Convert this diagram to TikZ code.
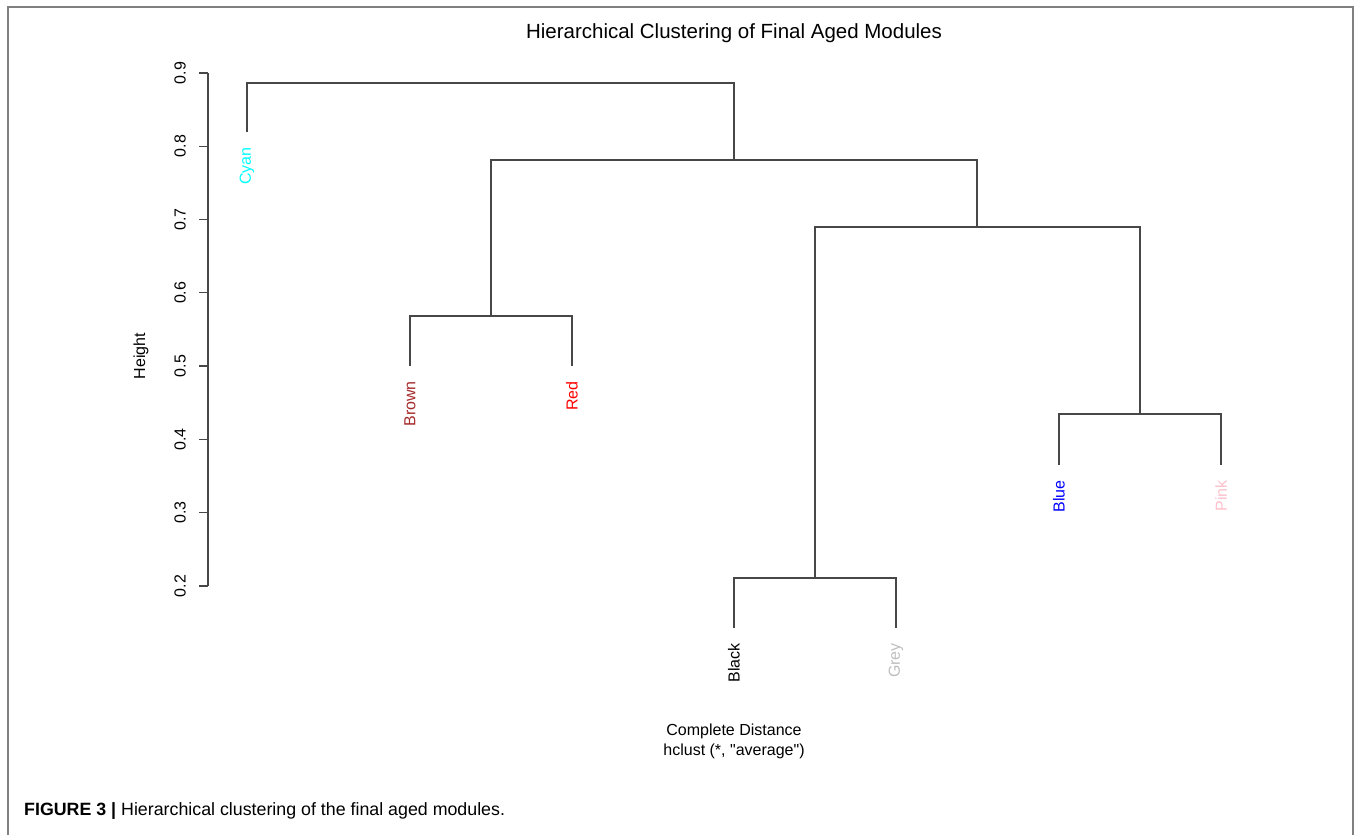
\documentclass[tikz,border=0pt]{standalone}
\usepackage{fontspec}
\setmainfont{Liberation Sans}[Ligatures=TeXOff]
\usetikzlibrary{positioning}
\definecolor{rcyan}{RGB}{0,255,255}
\definecolor{rbrown}{RGB}{165,42,42}
\definecolor{rred}{RGB}{255,0,0}
\definecolor{rgrey}{RGB}{190,190,190}
\definecolor{rblue}{RGB}{0,0,255}
\definecolor{rpink}{RGB}{255,192,203}
\begin{document}
\begin{tikzpicture}[x=1pt,y=-1pt,every node/.style={inner sep=0pt,font=\fontsize{16}{18}\selectfont},
  link/.style={line width=1.3pt,draw=black!72},
  leaf/.style={rotate=90,anchor=east}]
\useasboundingbox (0,0) rectangle (1356,835);
\draw[line width=2pt,draw=black!50] (8,835) |- (1353,6.5) -- (1353,835);
\node[font=\fontsize{20.5}{23}\selectfont] (title) at (734,33) {Hierarchical Clustering of Final Aged Modules};
% axis
\coordinate (axTop) at (208,73);
\coordinate (axBot) at (208,586);
\draw[link] (axTop) -- (axBot);
\foreach \v in {2,...,9}{
  \coordinate (tk\v) at (208,{586-(\v-2)*73.3});
  \draw[link] (tk\v) -- ++(-9,0);
  \node[rotate=90] (tl\v) at (180,{586-(\v-2)*73.3}) {0.\v};
}
\node[rotate=90] (ylab) at (141,356) {Height};
% leaves
\coordinate (cyanEnd) at (247,132);
\coordinate (brownEnd) at (410,366);
\coordinate (redEnd) at (572,366);
\coordinate (blackEnd) at (734,628);
\coordinate (greyEnd) at (896,628);
\coordinate (blueEnd) at (1059,465);
\coordinate (pinkEnd) at (1221,465);
% merges
\coordinate (brownRed) at (491,316);
\coordinate (blackGrey) at (815,578);
\coordinate (bluePink) at (1140,414);
\coordinate (rightGrp) at (977,227);
\coordinate (midGrp) at (734,160);
\coordinate (topGrp) at (490,83);
\draw[link] (brownEnd) |- (brownRed) -| (redEnd);
\draw[link] (blackEnd) |- (blackGrey) -| (greyEnd);
\draw[link] (blueEnd) |- (bluePink) -| (pinkEnd);
\draw[link] (blackGrey) |- (rightGrp) -| (bluePink);
\draw[link] (brownRed) |- (midGrp) -| (rightGrp);
\draw[link] (cyanEnd) |- (topGrp) -| (midGrp);
\node[leaf,text=rcyan] (cyan) at (247,147) {Cyan};
\node[leaf,text=rbrown] (brown) at (410,381) {Brown};
\node[leaf,text=rred] (red) at (572,381) {Red};
\node[leaf] (black) at (734,643) {Black};
\node[leaf,text=rgrey] (grey) at (896,643) {Grey};
\node[leaf,text=rblue] (blue) at (1059,480) {Blue};
\node[leaf,text=rpink] (pink) at (1221,480) {Pink};
\node (xlab) at (734,731) {Complete Distance};
\node (meth) at (734,751) {hclust (*, "average")};
\node[anchor=west,font=\fontsize{17.8}{20}\selectfont] (caption) at (24,811) {\textbf{FIGURE 3 |} Hierarchical clustering of the final aged modules.};
\end{tikzpicture}
\end{document}
